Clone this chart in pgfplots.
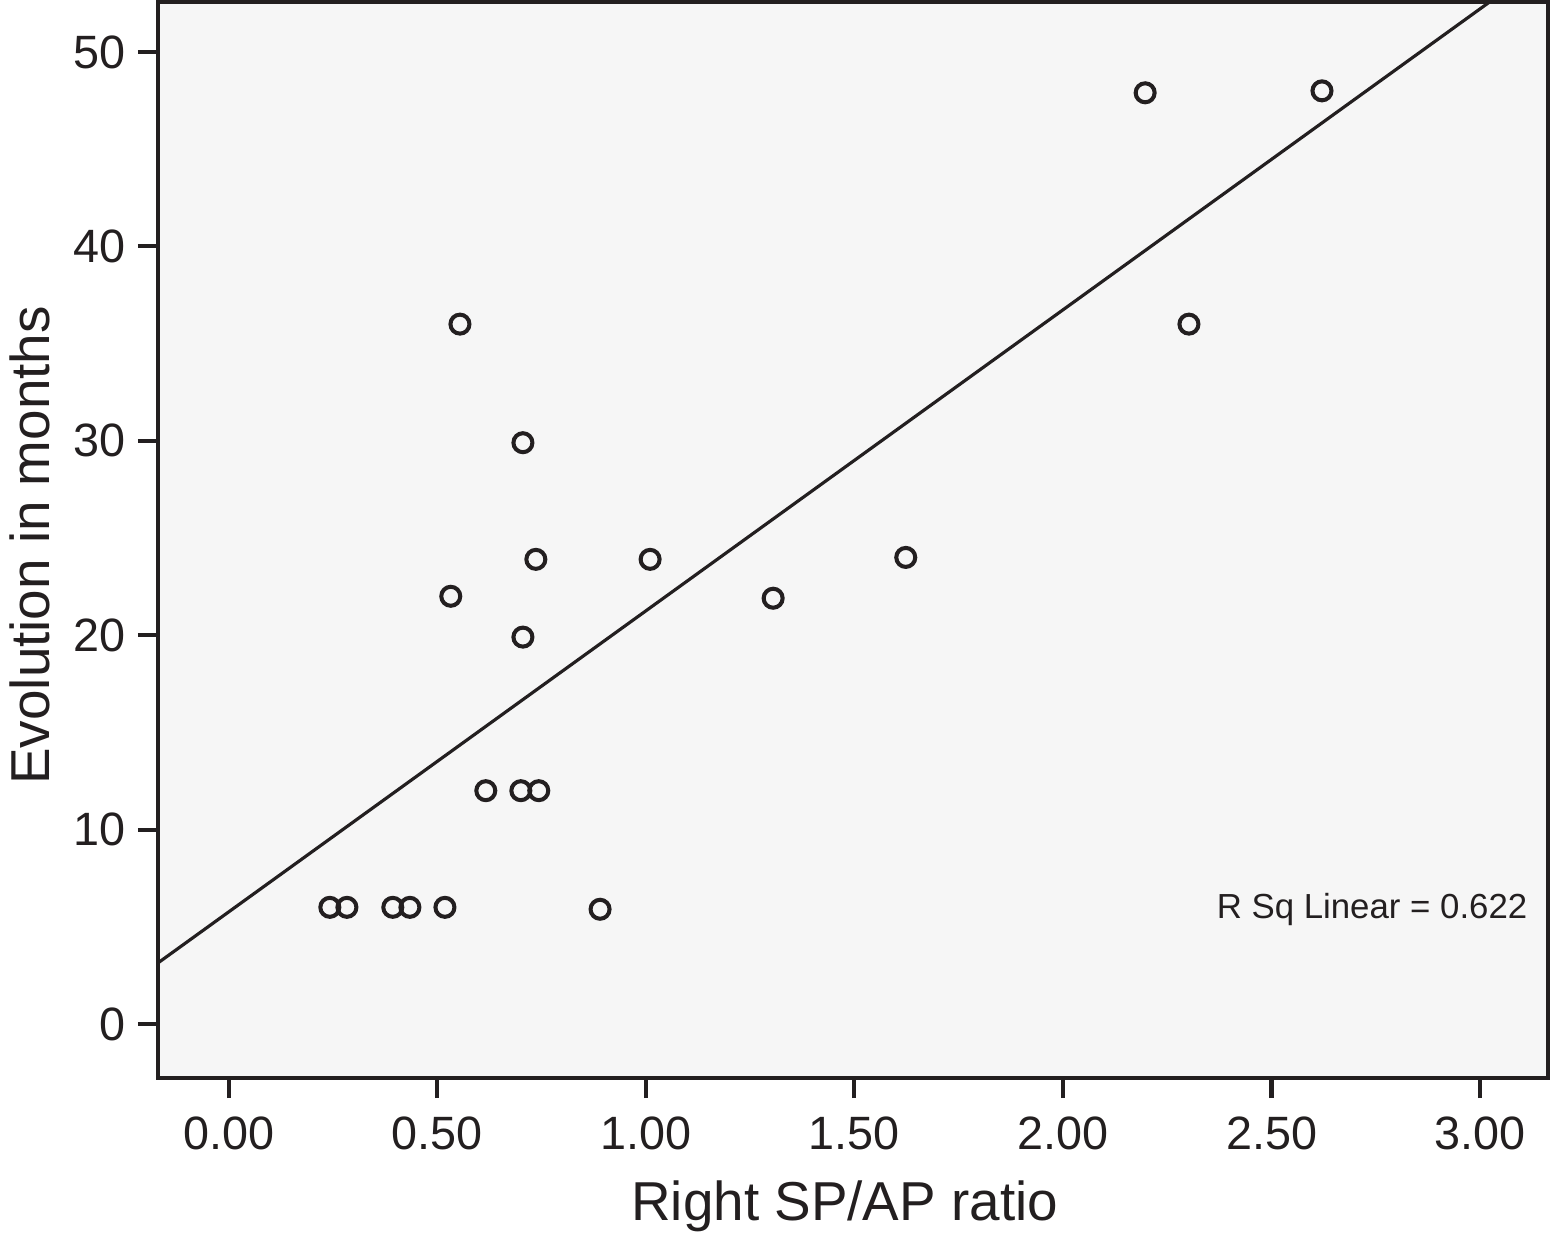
\documentclass[border=0pt]{standalone}
\usepackage{fontspec}
\setmainfont{Liberation Sans}
\usepackage{pgfplots}
\pgfplotsset{compat=1.18}
\definecolor{ink}{RGB}{35,31,32}
\definecolor{bg}{RGB}{246,246,246}

\begin{document}
\begin{tikzpicture}
\useasboundingbox (0,0) rectangle (15.5cm,12.46cm);
\begin{axis}[
    at={(1.58cm,1.68cm)}, anchor=south west,
    scale only axis,
    width=13.9cm, height=10.76cm,
    xmin=-0.17, xmax=3.163,
    ymin=-2.78, ymax=52.57,
    xtick={0,0.5,...,3}, ytick={0,10,...,50},
    axis line style={ink, line width=1.15pt},
    axis background/.style={fill=bg},
    tick style={ink, line width=1.15pt},
    major tick length=2mm,
    tick align=outside,
    xtick pos=bottom, ytick pos=left,
    /pgf/number format/assume math mode=true,
    ticklabel style={font=\fontsize{13.3}{16}\selectfont, text=ink},
    x tick label style={/pgf/number format/fixed, /pgf/number format/fixed zerofill,
        /pgf/number format/precision=2, yshift=-0.6mm},
    label style={font=\fontsize{15.6}{18}\selectfont, text=ink},
    xlabel={Right SP/AP ratio},
    ylabel={Evolution in months},
    xlabel style={at={(axis description cs:0.494,-0.132)}, anchor=base},
    ylabel style={at={(axis description cs:-0.092,0.495)}, anchor=center},
    clip=true,
]
% fit line
\addplot[ink, line width=0.9pt] coordinates {(-0.17,3.14) (3.163,54.74)};
% observations
\addplot[only marks, mark=o, mark size=0.95mm, ink,
    mark options={line width=1.15pt}] coordinates {
    (0.242,6) (0.283,6) (0.393,6) (0.434,6) (0.518,6) (0.890,5.9)
    (0.616,12) (0.700,12) (0.743,12)
    (0.532,22) (0.705,19.9) (0.736,23.9) (0.705,29.9) (0.554,36)
    (1.010,23.9) (1.305,21.9) (1.623,24)
    (2.197,47.9) (2.302,36) (2.621,48)
};
\node[anchor=base east, font=\fontsize{9.9}{12}\selectfont, text=ink, inner sep=0pt]
    at (axis description cs:0.9856,0.1487) {R Sq Linear = 0.622};
\end{axis}
\end{tikzpicture}
\end{document}
